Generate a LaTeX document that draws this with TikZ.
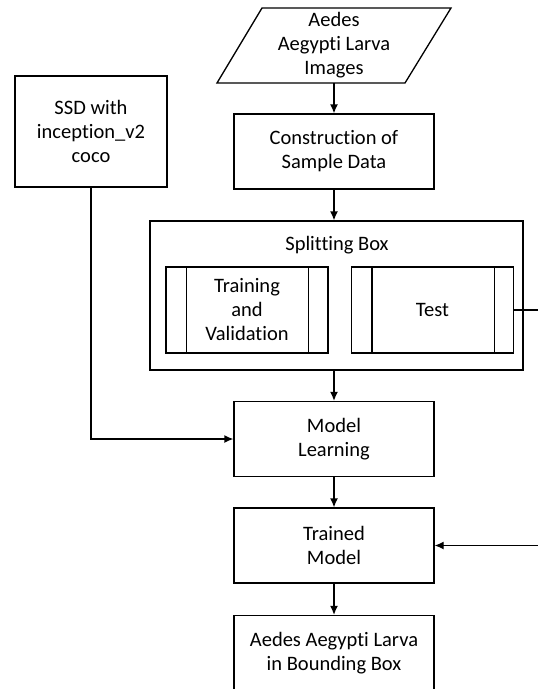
\documentclass[tikz,border=0pt]{standalone}
\usepackage{fontspec}
\setmainfont{Carlito}[Ligatures={NoCommon}]
\usetikzlibrary{arrows.meta}
\begin{document}
\begin{tikzpicture}[x=1pt,y=-1pt,
  every node/.style={font=\fontsize{20.5}{24}\selectfont, align=center, inner sep=0pt},
  box/.style={draw, line width=1.3pt, minimum width=200pt, minimum height=75pt},
  proc/.style={draw, line width=1.3pt, minimum width=162pt, minimum height=86pt},
  conn/.style={line width=1.3pt},
  arr/.style={conn, -{Latex[length=9pt,width=8pt]}}]
\useasboundingbox (0,0) rectangle (538,689);
\clip (0,0) rectangle (538,689);
% source parallelogram
\draw[line width=1.3pt] (217,83) -- (262,8) -- (451,8) -- (405,83) -- cycle;
\node[minimum width=150pt, minimum height=75pt] (src) at (334,45.5) {Aedes\\Aegypti Larva\\Images};
\node[box] (cons) at (334,151.5) {Construction of\\Sample Data};
\node[draw, line width=1.3pt, minimum width=373pt, minimum height=149pt] (split) at (336.5,295.5) {};
\node (splitlbl) at (337,245) {Splitting Box};
\node[proc] (train) at (247,310) {Training\\and\\Validation};
\node[proc] (test) at (432.5,310) {Test};
\foreach \n in {train,test}{
  \draw[conn] ([xshift=21pt]\n.north west) -- ([xshift=21pt]\n.south west);
  \draw[conn] ([xshift=-20pt]\n.north east) -- ([xshift=-20pt]\n.south east);
}
\node[draw, line width=1.3pt, minimum width=152pt, minimum height=111pt] (ssd) at (91,131.5) {SSD with\\inception\_v2\\coco};
\node[box] (model) at (334,439) {Model\\Learning};
\node[box] (trained) at (334,545.5) {Trained\\Model};
\node[box] (final) at (334,653) {Aedes Aegypti Larva\\in Bounding Box};
\coordinate (rt) at (541,310);
\draw[arr] (src.south) -- (cons.north);
\draw[arr] (cons.south) -- (cons.south |- split.north);
\draw[arr] (model.north |- split.south) -- (model.north);
\draw[arr] (ssd.south) |- (model.west);
\draw[arr] (model.south) -- (trained.north);
\draw[arr] (trained.south) -- (final.north);
\draw[arr] (test.east) -- (rt) |- (trained.east);
\end{tikzpicture}
\end{document}
